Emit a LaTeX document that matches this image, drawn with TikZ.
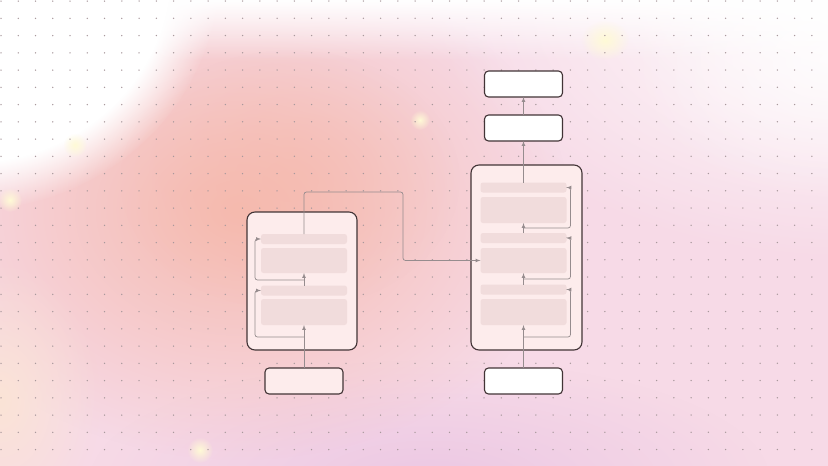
\documentclass[tikz,border=0pt]{standalone}
\usetikzlibrary{positioning,calc,arrows,fadings}
\definecolor{boxFill}  {RGB}{253,236,236}
\definecolor{barFill}  {RGB}{241,220,220}
\definecolor{boxLine}  {RGB}{66,52,54}
\definecolor{wireGrey} {RGB}{150,140,142}
\definecolor{dotGrey}  {RGB}{168,152,156}
\definecolor{bgBase}   {RGB}{247,218,231}
\definecolor{bgSalmon} {RGB}{245,186,174}
\definecolor{bgLilac}  {RGB}{236,200,228}
\definecolor{bgPeach}  {RGB}{251,228,214}
\definecolor{glowCream}{RGB}{255,250,214}
\tikzfading[name=softblob, inner color=transparent!0, outer color=transparent!100]
\tikzfading[name=topfade, top color=transparent!0, bottom color=transparent!100]
\tikzstyle{stack}     = [draw=boxLine, fill=boxFill, line width=1.1pt, rounded corners=8pt]
\tikzstyle{ioBox}     = [draw=boxLine, fill=boxFill, line width=1.1pt, rounded corners=4pt, minimum width=78pt, minimum height=26pt]
\tikzstyle{outBox}    = [ioBox, fill=white]
\tikzstyle{sublayer}  = [fill=barFill, rounded corners=2.5pt, minimum width=86pt]
\tikzstyle{dataFlow}  = [draw=wireGrey, line width=0.7pt, -latex, rounded corners=2.5pt]
\tikzset{
  x=1pt, y=-1pt,
  every node/.style={inner sep=0pt, outer sep=0pt},
  blob/.style={path fading=softblob},
  edgeblob/.style={path fading=circle with fuzzy edge 20 percent},
  dotmark/.style={fill=dotGrey}
}
\begin{document}
\begin{tikzpicture}
	\useasboundingbox (0,0) rectangle (828,466);
	% background wash
	\begin{scope}
		\clip (0,0) rectangle (828,466);
		\fill[bgBase] (0,0) rectangle (828,466);
		\fill[bgLilac, blob]  (430,480) ellipse (340 and 120);
		\fill[bgSalmon, blob] (240,210) ellipse (330 and 250);
		\fill[bgSalmon, blob, fill opacity=0.6] (290,180) ellipse (170 and 130);
		\fill[bgPeach, blob]  (0,400) ellipse (100 and 140);
		\fill[white, edgeblob] (-30,-30) ellipse (250 and 240);
		\fill[white, blob] (850,0) ellipse (420 and 260);
		\fill[white, blob, fill opacity=0.7] (830,60) ellipse (200 and 140);
		\fill[white, path fading=topfade] (0,0) rectangle (828,60);
		\fill[glowCream, blob] (75,145) circle (12);
		\fill[glowCream, blob] (420,120) circle (10);
		\fill[glowCream, blob] (200,450) circle (13);
		\fill[glowCream, blob] (10,200) circle (12);
		\fill[glowCream, blob] (605,40) ellipse (24 and 20);
		\foreach \i in {0,...,48}
			\foreach \j in {0,...,27}
				\fill[dotmark] (1+\i*17.25, 1+\j*17.25) circle (0.75);
	\end{scope}

	% encoder
	\node[stack, minimum width=110pt, minimum height=138pt] (enc) at (302,281) {};
	\node[sublayer, minimum height=10pt] (encBarA)   at (304,239) {};
	\node[sublayer, minimum height=25pt] (encBlockA) at (304,260.5) {};
	\node[sublayer, minimum height=10pt] (encBarB)   at (304,290.5) {};
	\node[sublayer, minimum height=26pt] (encBlockB) at (304,312) {};
	\node[ioBox] (encIn) at (304,381) {};

	% decoder
	\node[stack, minimum width=111pt, minimum height=185pt] (dec) at (526.5,257.5) {};
	\node[sublayer, minimum height=10pt] (decBarA)   at (523.5,187.5) {};
	\node[sublayer, minimum height=26pt] (decBlockA) at (523.5,210) {};
	\node[sublayer, minimum height=10pt] (decBarB)   at (523.5,238) {};
	\node[sublayer, minimum height=25pt] (decBlockB) at (523.5,260.5) {};
	\node[sublayer, minimum height=10pt] (decBarC)   at (523.5,289.5) {};
	\node[sublayer, minimum height=26pt] (decBlockC) at (523.5,312) {};
	\node[outBox] (decIn)   at (523.5,381) {};
	\node[outBox] (decOutB) at (523.5,128) {};
	\node[outBox] (decOutA) at (523.5,84) {};

	\coordinate (encSplitA) at (304,280);
	\coordinate (encSplitB) at (304,337);
	\coordinate (decSplitA) at (523.5,228);
	\coordinate (decSplitB) at (523.5,279);
	\coordinate (decSplitC) at (523.5,337);
	\coordinate (bridge)    at (403,192);

	% main flow
	\draw[dataFlow] (encIn.north) -- (encBlockB.south);
	\draw[dataFlow] (encBarB.north) -- (encBlockA.south);
	\draw[dataFlow] (decIn.north) -- (decBlockC.south);
	\draw[dataFlow] (decBarC.north) -- (decBlockB.south);
	\draw[dataFlow] (decBarB.north) -- (decBlockA.south);
	\draw[dataFlow] (decBarA.north) -- (decOutB.south);
	\draw[dataFlow] (decOutB.north) -- (decOutA.south);
	\draw[dataFlow] (encBarA.north) |- (bridge) |- (decBlockB.west);

	% residuals
	\draw[dataFlow] (encSplitB) -| ([xshift=-6pt]encBarB.west) -- (encBarB.west);
	\draw[dataFlow] (encSplitA) -| ([xshift=-6pt]encBarA.west) -- (encBarA.west);
	\draw[dataFlow] (decSplitC) -| ([xshift=4pt]decBarC.east) -- (decBarC.east);
	\draw[dataFlow] (decSplitB) -| ([xshift=4pt]decBarB.east) -- (decBarB.east);
	\draw[dataFlow] (decSplitA) -| ([xshift=4pt]decBarA.east) -- (decBarA.east);
\end{tikzpicture}
\end{document}
